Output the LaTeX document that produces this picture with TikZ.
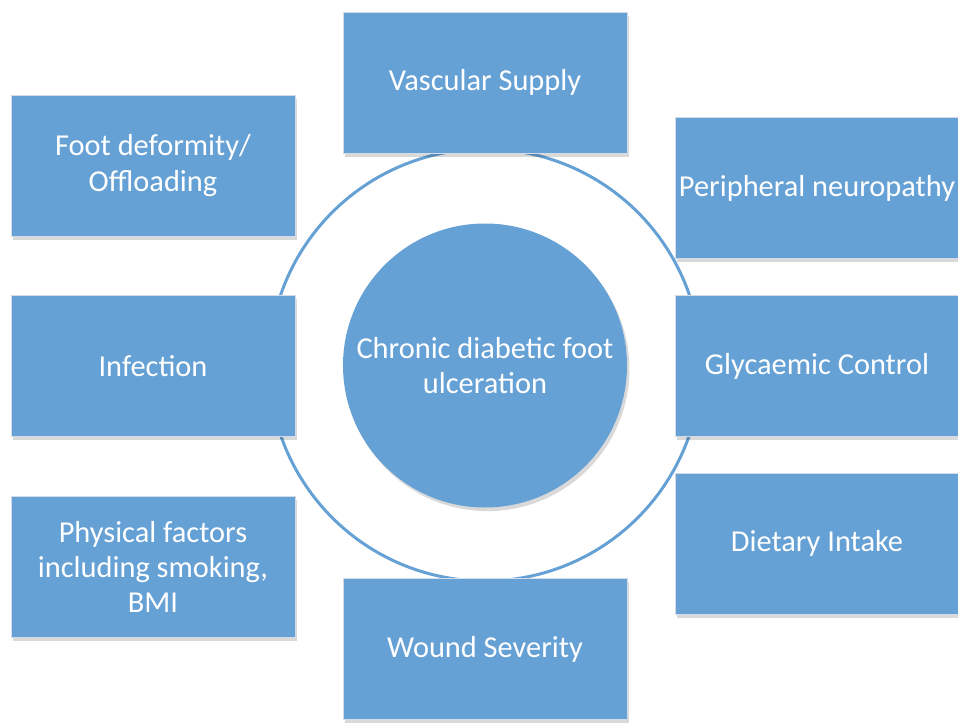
\documentclass[tikz,border=0pt]{standalone}
\usepackage{fontspec}
\setmainfont{Carlito}
\usepackage{tikz}
\usetikzlibrary{shadows}
\definecolor{boxblue}{HTML}{66A1D5}
\definecolor{edge}{HTML}{D3DCE6}

\begin{document}
\begin{tikzpicture}[x=0.5pt,y=-0.5pt,
  factor/.style={draw=edge,line width=0.3pt,fill=boxblue,text=white,
    minimum width=142pt,minimum height=70.5pt,align=center,inner sep=0pt,
    font=\fontsize{15.2}{17.6}\selectfont,
    drop shadow={shadow xshift=1.2pt,shadow yshift=-1.8pt,opacity=0.15,fill=black}},
  core/.style={circle,fill=boxblue,text=white,minimum size=142pt,align=center,
    inner sep=0pt,font=\fontsize{15.2}{17.6}\selectfont,
    drop shadow={shadow xshift=1.2pt,shadow yshift=-1.8pt,opacity=0.15,fill=black}},
  ring/.style={draw=boxblue,line width=1.5pt}]
\useasboundingbox (0,0) rectangle (958,723);
% ring behind everything
\draw[ring] (485,365) circle[radius=108pt];
\node[core] (ulcer) at (485,365.5) {Chronic diabetic foot\\ulceration};
% factors round the ring
\node[factor] (vasc) at (485,82.5) {Vascular Supply};
\node[factor] (foot) at (153,165.5) {Foot deformity/\\Offloading};
\node[factor] (neuro) at (817,188) {Peripheral neuropathy};
\node[factor] (infect) at (153,366) {Infection};
\node[factor] (glyc) at (817,366) {Glycaemic Control};
\node[factor] (phys) at (153,567) {Physical factors\\including smoking,\\BMI};
\node[factor] (diet) at (817,543.5) {Dietary Intake};
\node[factor] (wound) at (485,649) {Wound Severity};
\end{tikzpicture}
\end{document}
